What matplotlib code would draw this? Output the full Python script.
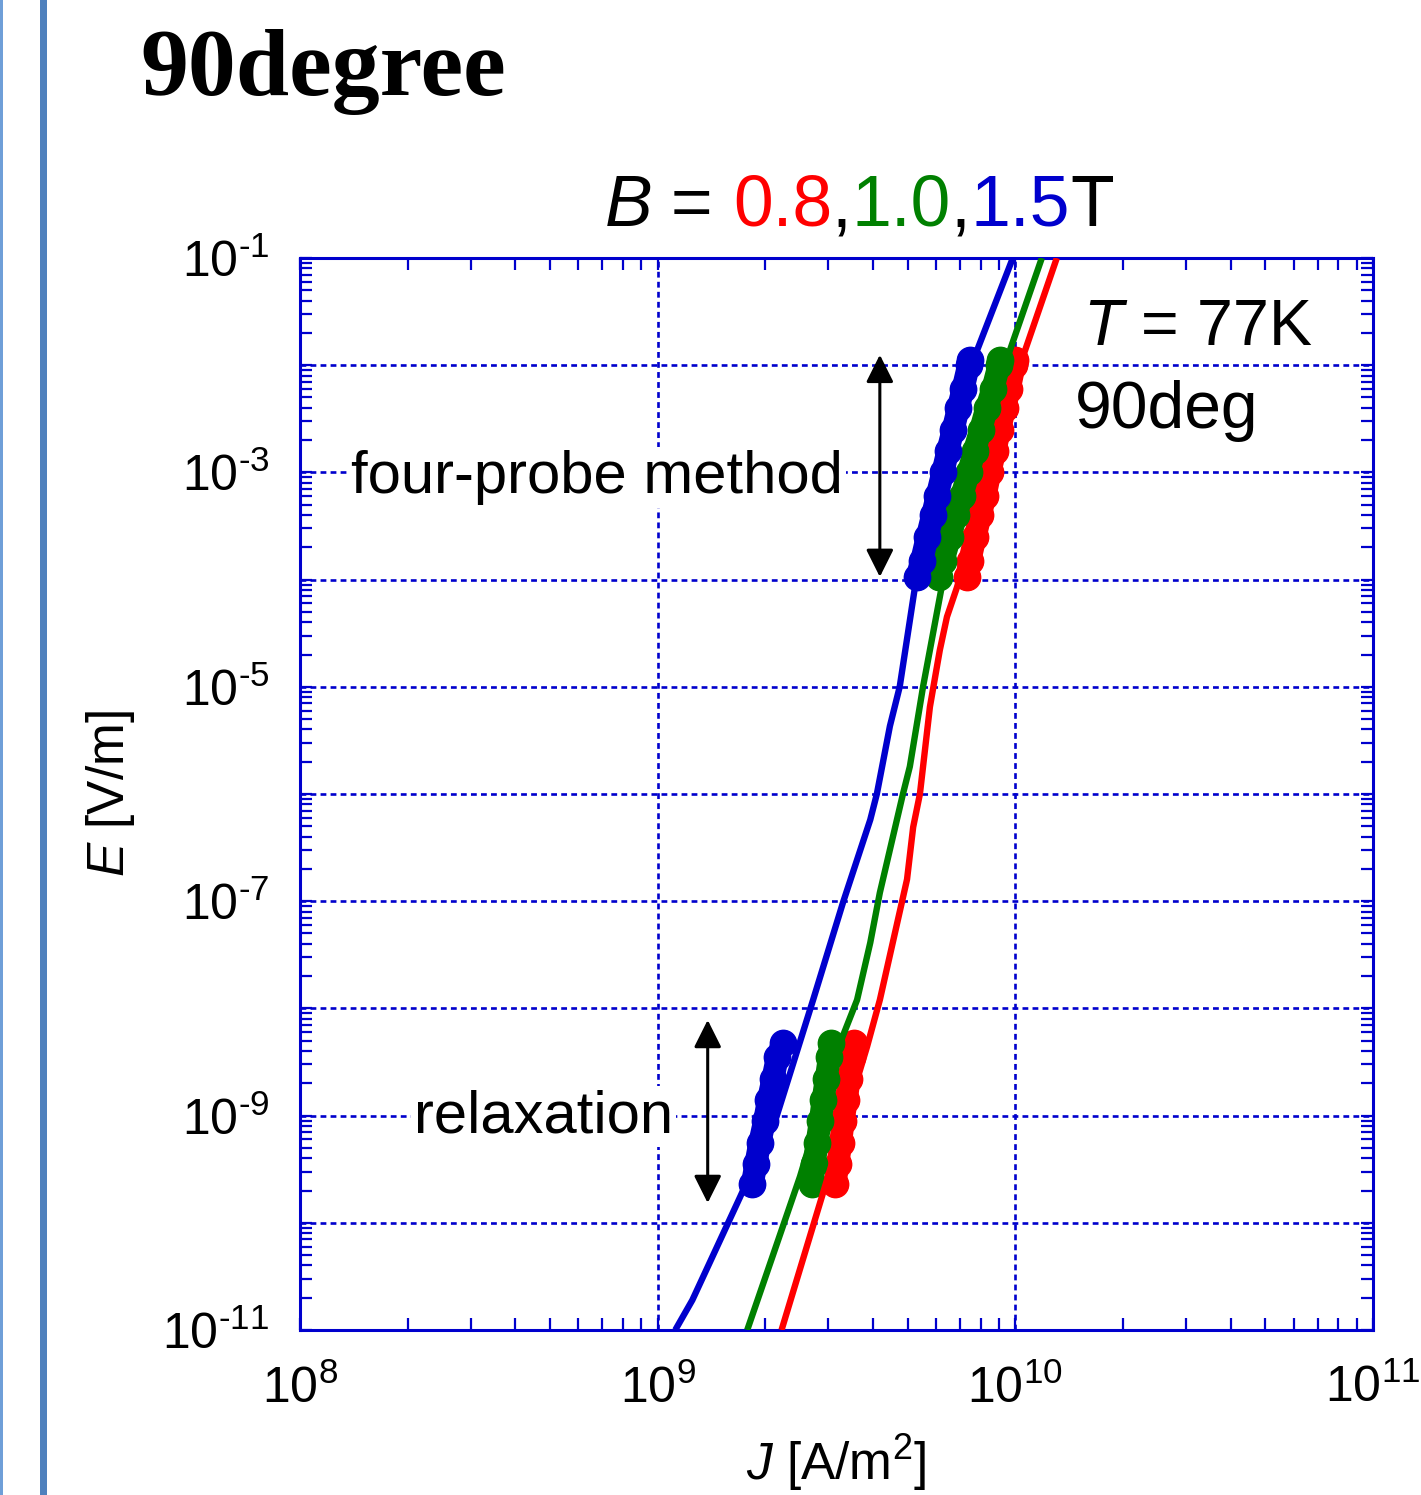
import matplotlib
matplotlib.use("Agg")
import matplotlib.pyplot as plt
from matplotlib.patches import Rectangle
from matplotlib.ticker import FixedLocator, LogLocator, NullFormatter
import numpy as np

plt.rcParams['font.family'] = ['Liberation Sans', 'DejaVu Sans']
plt.rcParams['mathtext.fontset'] = 'custom'
plt.rcParams['mathtext.rm'] = 'Liberation Sans'
plt.rcParams['mathtext.it'] = 'Liberation Sans:italic'
plt.rcParams['mathtext.bf'] = 'Liberation Sans:bold'

# ---------------- data ----------------
series_names = ["0.8T", "1.0T", "1.5T"]
series_colors = ["#ff0000", "#008000", "#0000cd"]

# fitted curves (J [A/m^2], E [V/m])
curve_J_08 = [2.22e9, 2.90e9, 3.85e9, 4.18e9, 4.98e9, 5.18e9, 5.41e9, 5.77e9, 6.15e9, 6.44e9, 6.87e9, 1.05e10, 1.306e10]
curve_E_08 = [1e-11, 1.9e-10, 4.4e-9, 1.2e-8, 1.6e-7, 4.9e-7, 1.0e-6, 6.5e-6, 2.2e-5, 4.5e-5, 8.5e-5, 1.2e-2, 1e-1]
curve_J_10 = [1.78e9, 2.50e9, 3.24e9, 3.61e9, 3.93e9, 4.18e9, 4.85e9, 5.07e9, 5.52e9, 6.28e9, 9.66e9, 1.186e10]
curve_E_10 = [1e-11, 2.7e-10, 4.8e-9, 1.2e-8, 4.1e-8, 1.2e-7, 1.0e-6, 1.8e-6, 1e-5, 1e-4, 1.38e-2, 1e-1]
curve_J_15 = [1.12e9, 1.25e9, 1.70e9, 2.15e9, 2.72e9, 3.30e9, 3.93e9, 4.10e9, 4.46e9, 4.75e9, 5.24e9, 7.82e9, 9.84e9]
curve_E_15 = [1e-11, 1.9e-11, 1.74e-10, 9.8e-10, 1.2e-8, 9.8e-8, 5.75e-7, 1.0e-6, 4.3e-6, 1e-5, 8.5e-5, 1.38e-2, 1e-1]

# four-probe measurements
fp_E = [1.05e-4, 1.5e-4, 2.5e-4, 4e-4, 6e-4, 1e-3, 1.6e-3, 2.5e-3, 4e-3, 6e-3, 1e-2, 1.12e-2]
fp_J_08 = [7.31e9, 7.46e9, 7.72e9, 7.98e9, 8.23e9, 8.49e9, 8.77e9, 9.04e9, 9.33e9, 9.62e9, 9.93e9, 9.98e9]
fp_J_10 = [6.12e9, 6.28e9, 6.56e9, 6.83e9, 7.08e9, 7.40e9, 7.69e9, 8.00e9, 8.32e9, 8.65e9, 9.00e9, 9.05e9]
fp_J_15 = [5.31e9, 5.47e9, 5.67e9, 5.87e9, 6.04e9, 6.27e9, 6.48e9, 6.70e9, 6.93e9, 7.14e9, 7.40e9, 7.45e9]

# relaxation measurements
rx_E = [2.3e-10, 3.5e-10, 5.6e-10, 8.9e-10, 1.4e-9, 2.2e-9, 3.5e-9, 4.8e-9]
rx_J_08 = [3.13e9, 3.19e9, 3.25e9, 3.30e9, 3.37e9, 3.43e9, 3.50e9, 3.53e9]
rx_J_10 = [2.70e9, 2.74e9, 2.79e9, 2.85e9, 2.90e9, 2.96e9, 3.02e9, 3.05e9]
rx_J_15 = [1.84e9, 1.88e9, 1.93e9, 1.99e9, 2.04e9, 2.10e9, 2.16e9, 2.24e9]

x_ticks = [1e8, 1e9, 1e10, 1e11]
x_labels = [r'$10^{8}$', r'$10^{9}$', r'$10^{10}$', r'$10^{11}$']
y_ticks = [1e-11, 1e-10, 1e-9, 1e-8, 1e-7, 1e-6, 1e-5, 1e-4, 1e-3, 1e-2, 1e-1]
y_labels = [r'$10^{\text{-}11}$', '', r'$10^{\text{-}9}$', '', r'$10^{\text{-}7}$', '',
            r'$10^{\text{-}5}$', '', r'$10^{\text{-}3}$', '', r'$10^{\text{-}1}$']

# ---------------- figure ----------------
W, H = 1421, 1495
fig = plt.figure(figsize=(W / 100, H / 100), dpi=100)
ax = fig.add_axes([300 / W, 1 - 1330 / H, (1373 - 300) / W, (1330 - 258) / H])
ax.set_xscale('log')
ax.set_yscale('log')
ax.set_xlim(1e8, 1e11)
ax.set_ylim(1e-11, 1e-1)

axis_blue = "#0000cd"
for s in ax.spines.values():
    s.set_color(axis_blue)
    s.set_linewidth(2.2)

ax.xaxis.set_major_locator(FixedLocator(x_ticks))
ax.set_xticklabels(x_labels)
ax.yaxis.set_major_locator(FixedLocator(y_ticks))
ax.set_yticklabels(y_labels)
ax.xaxis.set_minor_locator(LogLocator(base=10, subs=np.arange(2, 10), numticks=20))
ax.yaxis.set_minor_locator(LogLocator(base=10, subs=np.arange(2, 10), numticks=30))
ax.xaxis.set_minor_formatter(NullFormatter())
ax.yaxis.set_minor_formatter(NullFormatter())
ax.tick_params(which='both', direction='in', top=True, right=True, color=axis_blue,
               width=1.6, length=8.5)
ax.tick_params(axis='both', which='major', labelsize=36, labelcolor='black')
ax.tick_params(axis='x', which='major', pad=25)
ax.tick_params(axis='y', which='major', pad=22)

ax.grid(True, which='major', color=axis_blue, linestyle=(0, (2.2, 1.6)), linewidth=1.9)

colors = series_colors
curves = [(curve_J_08, curve_E_08), (curve_J_10, curve_E_10), (curve_J_15, curve_E_15)]
fps = [fp_J_08, fp_J_10, fp_J_15]
rxs = [rx_J_08, rx_J_10, rx_J_15]

for c, fj, rj in zip(colors, fps, rxs):
    for jj, ee in ((fj, fp_E), (rj, rx_E)):
        ax.plot(jj, ee, color=c, lw=16.5, marker='o', ms=19, solid_capstyle='round',
                solid_joinstyle='round', zorder=3)
for c, (cj, ce) in zip(colors, curves):
    ax.plot(cj, ce, color=c, lw=4.6, zorder=4, solid_capstyle='butt')

# arrows
arrow_kw = dict(arrowstyle='<|-|>', color='black', lw=2.2, mutation_scale=42, shrinkA=0, shrinkB=0)
ax.annotate('', xy=(4.18e9, 1.06e-4), xytext=(4.18e9, 1.25e-2), arrowprops=arrow_kw, zorder=5)
ax.annotate('', xy=(1.38e9, 1.53e-10), xytext=(1.38e9, 7.8e-9), arrowprops=arrow_kw, zorder=5)

bbox_w = dict(facecolor='white', edgecolor='none', pad=2)
ax.text(0.506, 0.7808, 'four-probe method', transform=ax.transAxes, ha='right', va='baseline',
        fontsize=43, bbox=bbox_w, zorder=6)
ax.text(0.3476, 0.1847, 'relaxation', transform=ax.transAxes, ha='right', va='baseline',
        fontsize=43, bbox=bbox_w, zorder=6)
ax.text(0.7297, 0.9188, r'$T$ = 77K', transform=ax.transAxes, ha='left', va='baseline',
        fontsize=46.5, bbox=bbox_w, zorder=6)
ax.text(0.7223, 0.8414, '90deg', transform=ax.transAxes, ha='left', va='baseline',
        fontsize=47.5, bbox=bbox_w, zorder=6)

ax.set_xlabel(r'$J$ [A/m$^{\mathregular{2}}$]', fontsize=37, labelpad=14)
ax.set_ylabel(r'$E$ [V/m]', fontsize=37, labelpad=18)

# title B = 0.8,1.0,1.5T built in coloured pieces
pieces = [(r'$B$', 'black'), (' = ', 'black'), ('0.8', series_colors[0]), (',', 'black'),
          ('1.0', series_colors[1]), (',', 'black'), ('1.5', series_colors[2]), ('T', 'black')]
renderer = fig.canvas.get_renderer()
first = fig.text(604 / W, 1 - 226 / H, pieces[0][0], fontsize=51.5, color=pieces[0][1],
                 ha='left', va='baseline')
bb = first.get_window_extent(renderer)
x_cur = bb.x1
y_bot = bb.y0
for txt, col in pieces[1:]:
    t = fig.text(x_cur / W, y_bot / H, txt, fontsize=51.5, color=col, ha='left', va='bottom')
    b = t.get_window_extent(renderer)
    x_cur = b.x1

# page title
fig.text(140 / W, 1 - 95 / H, '90degree', fontsize=69, fontweight='bold',
         family=['Liberation Serif', 'DejaVu Serif'], ha='left', va='baseline')

# left decorative bars
fig.patches.append(Rectangle((40 / W, 0), 7 / W, 1, transform=fig.transFigure,
                             facecolor='#4f81bd', edgecolor='none'))
fig.patches.append(Rectangle((0, 0), 2.5 / W, 1, transform=fig.transFigure,
                             facecolor='#6f9fd8', edgecolor='none'))

fig.savefig('out.png', dpi=100)
